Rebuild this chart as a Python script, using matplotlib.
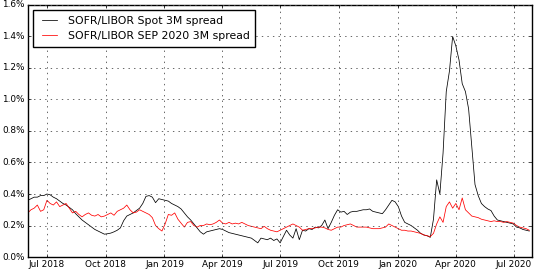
import pandas as pd
import matplotlib
matplotlib.use("Agg")
import matplotlib.pyplot as plt
import matplotlib.dates as mdates
from matplotlib.ticker import FuncFormatter, MultipleLocator

# sampled every 5 days starting 1 Jun 2018
start_date = "2018-06-01"
n_points = 158

# SOFR/LIBOR spot 3M spread, in percent
spot_spread = [
    0.36, 0.37, 0.38, 0.38, 0.39, 0.39, 0.40, 0.395, 0.38, 0.37,
    0.355, 0.34, 0.33, 0.315, 0.30, 0.275, 0.255, 0.235, 0.22, 0.205,
    0.19, 0.175, 0.165, 0.155, 0.145, 0.148, 0.152, 0.16, 0.17, 0.185,
    0.23, 0.26, 0.27, 0.28, 0.295, 0.31, 0.34, 0.385, 0.39, 0.38,
    0.345, 0.37, 0.365, 0.36, 0.355, 0.34, 0.33, 0.32, 0.305, 0.28,
    0.255, 0.235, 0.21, 0.185, 0.16, 0.145, 0.16, 0.165, 0.17, 0.175,
    0.18, 0.175, 0.165, 0.155, 0.15, 0.145, 0.14, 0.135, 0.13, 0.125,
    0.12, 0.105, 0.09, 0.12, 0.115, 0.11, 0.12, 0.105, 0.115, 0.09,
    0.13, 0.17, 0.14, 0.12, 0.18, 0.11, 0.17, 0.165, 0.18, 0.175,
    0.19, 0.185, 0.20, 0.235, 0.18, 0.22, 0.265, 0.30, 0.285, 0.29,
    0.27, 0.285, 0.29, 0.29, 0.295, 0.30, 0.30, 0.305, 0.29, 0.285,
    0.28, 0.275, 0.30, 0.33, 0.36, 0.35, 0.32, 0.26, 0.22, 0.21,
    0.20, 0.185, 0.17, 0.15, 0.14, 0.135, 0.125, 0.24, 0.49, 0.40,
    0.66, 1.05, 1.18, 1.40, 1.34, 1.25, 1.10, 1.05, 0.94, 0.70,
    0.46, 0.39, 0.34, 0.32, 0.305, 0.295, 0.26, 0.235, 0.23, 0.225,
    0.22, 0.215, 0.21, 0.19, 0.185, 0.175, 0.17, 0.165,
]

# SOFR/LIBOR SEP 2020 3M spread, in percent
sep20_spread = [
    0.28, 0.30, 0.31, 0.33, 0.29, 0.30, 0.36, 0.34, 0.33, 0.35,
    0.32, 0.33, 0.34, 0.31, 0.28, 0.29, 0.27, 0.255, 0.27, 0.28,
    0.265, 0.26, 0.27, 0.255, 0.26, 0.27, 0.28, 0.265, 0.29, 0.30,
    0.31, 0.33, 0.30, 0.28, 0.285, 0.30, 0.29, 0.28, 0.27, 0.25,
    0.20, 0.18, 0.165, 0.21, 0.27, 0.265, 0.28, 0.24, 0.215, 0.19,
    0.22, 0.225, 0.20, 0.19, 0.20, 0.20, 0.21, 0.205, 0.21, 0.22,
    0.235, 0.215, 0.21, 0.22, 0.21, 0.215, 0.21, 0.22, 0.21, 0.20,
    0.195, 0.19, 0.185, 0.18, 0.195, 0.18, 0.17, 0.165, 0.16, 0.17,
    0.18, 0.19, 0.20, 0.21, 0.20, 0.19, 0.17, 0.175, 0.18, 0.18,
    0.185, 0.19, 0.19, 0.185, 0.175, 0.17, 0.18, 0.19, 0.19, 0.20,
    0.205, 0.21, 0.20, 0.19, 0.19, 0.19, 0.19, 0.185, 0.18, 0.18,
    0.18, 0.185, 0.19, 0.21, 0.20, 0.19, 0.18, 0.17, 0.17, 0.165,
    0.165, 0.16, 0.155, 0.15, 0.14, 0.135, 0.13, 0.15, 0.21, 0.255,
    0.22, 0.32, 0.35, 0.31, 0.34, 0.30, 0.375, 0.30, 0.28, 0.26,
    0.255, 0.25, 0.24, 0.235, 0.23, 0.225, 0.23, 0.225, 0.225, 0.22,
    0.225, 0.22, 0.215, 0.20, 0.19, 0.185, 0.18, 0.17,
]

labels = ["SOFR/LIBOR Spot 3M spread", "SOFR/LIBOR SEP 2020 3M spread"]

dates = pd.date_range(start_date, periods=n_points, freq="5D")
df = pd.DataFrame({"spot": spot_spread, "sep20": sep20_spread}, index=dates)

plt.style.use("classic")
plt.rcParams["font.family"] = ["DejaVu Sans"]
plt.rcParams["font.size"] = 6.4
plt.rcParams["figure.facecolor"] = "white"
plt.rcParams["savefig.facecolor"] = "white"

fig = plt.figure(figsize=(5.34, 2.72), dpi=100)
ax = fig.add_axes([0.052, 0.055, 0.944, 0.927])

ax.plot(df.index, df["spot"], color="black", lw=0.55, label=labels[0])
ax.plot(df.index, df["sep20"], color="red", lw=0.55, label=labels[1])

ax.set_xlim(pd.Timestamp("2018-06-01"), pd.Timestamp("2020-07-29"))
ax.set_ylim(0, 1.6)
ax.yaxis.set_major_locator(MultipleLocator(0.2))
ax.yaxis.set_major_formatter(FuncFormatter(lambda v, pos: f"{v:.1f}%"))
ax.xaxis.set_major_locator(mdates.MonthLocator(bymonth=[1, 4, 7, 10]))
ax.xaxis.set_major_formatter(mdates.DateFormatter("%b %Y"))
ax.tick_params(length=2, pad=2)

ax.grid(True, linestyle=":", color="0.3", lw=0.6)
ax.legend(loc="upper left", fontsize=7.85, handlelength=2.0,
          handletextpad=0.7, borderpad=0.5, labelspacing=0.5)

fig.savefig("out.png", dpi=100)
